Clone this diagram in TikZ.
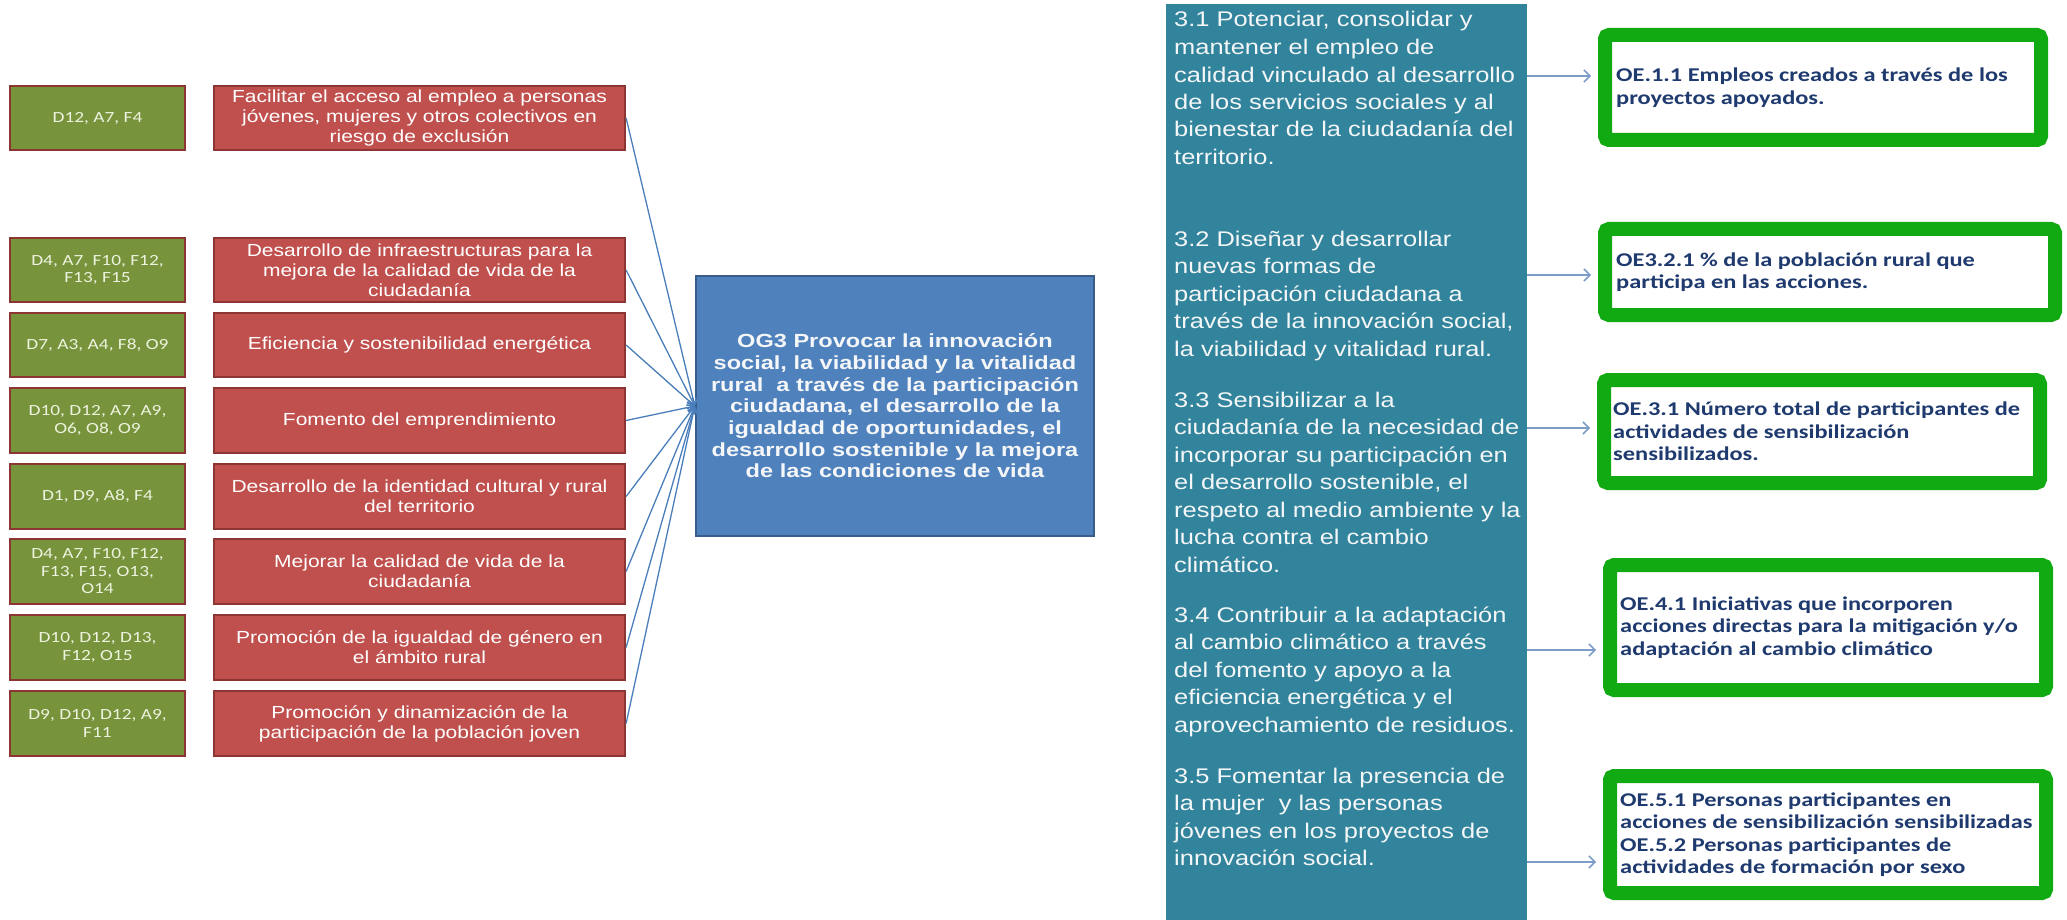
\documentclass[tikz,border=0pt]{standalone}
\usepackage{fontspec}
\usetikzlibrary{arrows.meta}
\newfontfamily\arialx{Liberation Sans}[FakeStretch=1.2]
\newfontfamily\arialb{Liberation Sans}[FakeStretch=1.24]
\newfontfamily\calx{Carlito}[FakeStretch=1.25]
\definecolor{gfill}{HTML}{77933C}
\definecolor{gtext}{HTML}{EEF3DF}
\definecolor{rfill}{HTML}{C0504D}
\definecolor{bdr}{HTML}{8C3532}
\definecolor{bfill}{HTML}{4F81BD}
\definecolor{bbdr}{HTML}{385D8A}
\definecolor{tealc}{HTML}{31849B}
\definecolor{ttext}{HTML}{F4F6F8}
\definecolor{oegreen}{HTML}{12AA12}
\definecolor{navy}{HTML}{1F3A6E}
\definecolor{conn}{HTML}{4A7EBB}
\definecolor{tconn}{HTML}{7E9CC8}
\tikzset{
  gbox/.style={draw=bdr, line width=2.2pt, fill=gfill, minimum width=175pt, minimum height=64.5pt,
    inner sep=0pt, align=center, text=gtext, font=\calx\fontsize{15.5pt}{17.5pt}\selectfont},
  rbox/.style={draw=bdr, line width=2.2pt, fill=rfill, minimum width=411pt, minimum height=64.5pt,
    inner sep=0pt, align=center, text=white, font=\arialx\fontsize{17.5pt}{20pt}\selectfont},
  ogbox/.style={draw=bbdr, line width=2.5pt, fill=bfill, minimum width=398pt, minimum height=260pt,
    inner sep=0pt, align=center, text=ttext, font=\arialb\bfseries\fontsize{19pt}{21.7pt}\selectfont},
  tealbox/.style={fill=tealc, minimum width=361pt, minimum height=916pt, inner sep=0pt},
  ttxt/.style={align=left, text=ttext, inner sep=0pt, font=\arialx\fontsize{21.2pt}{27.5pt}\selectfont},
  oebox/.style={draw=oegreen, line width=14pt, rounded corners=4pt, fill=white, inner sep=0pt},
  oetext/.style={align=left, text=navy, inner sep=0pt, font=\calx\bfseries\fontsize{19.5pt}{22.5pt}\selectfont},
  lconn/.style={draw=conn, line width=1.3pt, -{Straight Barb[length=6pt,width=10pt]}},
  tarrow/.style={draw=tconn, line width=1.5pt, -{Straight Barb[length=6pt,width=12pt]}, shorten >=7pt},
}
\begin{document}
\begin{tikzpicture}[x=1pt,y=-1pt]
\useasboundingbox (0,0) rectangle (2067,920);
% left column: green codes
\node[gbox] (g1) at (97.5,118)   {D12, A7, F4};
\node[gbox] (g2) at (97.5,270)   {D4, A7, F10, F12,\\F13, F15};
\node[gbox] (g3) at (97.5,345)   {D7, A3, A4, F8, O9};
\node[gbox] (g4) at (97.5,420.5) {D10, D12, A7, A9,\\O6, O8, O9};
\node[gbox] (g5) at (97.5,496.5) {D1, D9, A8, F4};
\node[gbox] (g6) at (97.5,571.5) {D4, A7, F10, F12,\\F13, F15, O13,\\O14};
\node[gbox] (g7) at (97.5,647.5) {D10, D12, D13,\\F12, O15};
\node[gbox] (g8) at (97.5,723.5) {D9, D10, D12, A9,\\F11};
% red lines of action
\node[rbox] (r1) at (419.5,118)   {Facilitar el acceso al empleo a personas\\j\'ovenes, mujeres y otros colectivos en\\riesgo de exclusi\'on};
\node[rbox] (r2) at (419.5,270)   {Desarrollo de infraestructuras para la\\mejora de la calidad de vida de la\\ciudadan\'ia};
\node[rbox] (r3) at (419.5,345)   {Eficiencia y sostenibilidad energ\'etica};
\node[rbox] (r4) at (419.5,420.5) {Fomento del emprendimiento};
\node[rbox] (r5) at (419.5,496.5) {Desarrollo de la identidad cultural y rural\\del territorio};
\node[rbox] (r6) at (419.5,571.5) {Mejorar la calidad de vida de la\\ciudadan\'ia};
\node[rbox] (r7) at (419.5,647.5) {Promoci\'on de la igualdad de g\'enero en\\el \'ambito rural};
\node[rbox] (r8) at (419.5,723.5) {Promoci\'on y dinamizaci\'on de la\\participaci\'on de la poblaci\'on joven};
% central objective
\node[ogbox] (og) at (895,406) {OG3 Provocar la innovaci\'on\\social, la viabilidad y la vitalidad\\rural\ \ a trav\'es de la participaci\'on\\ciudadana, el desarrollo de la\\igualdad de oportunidades, el\\desarrollo sostenible y la mejora\\de las condiciones de vida};
\foreach \i in {1,...,8} \draw[lconn] (r\i.east) -- (og.west);
% teal column (anchor base = baseline of the last line)
\node[tealbox] (tc) at (1346.5,462) {};
\node[ttxt, anchor=base west] (p1) at (1174,164.5) {3.1 Potenciar, consolidar y\\mantener el empleo de\\calidad vinculado al desarrollo\\de los servicios sociales y al\\bienestar de la ciudadan\'ia del\\territorio.};
\node[ttxt, anchor=base west] (p2) at (1174,356) {3.2 Dise\~nar y desarrollar\\nuevas formas de\\participaci\'on ciudadana a\\trav\'es de la innovaci\'on social,\\la viabilidad y vitalidad rural.};
\node[ttxt, anchor=base west] (p3) at (1174,572) {3.3 Sensibilizar a la\\ciudadan\'ia de la necesidad de\\incorporar su participaci\'on en\\el desarrollo sostenible, el\\respeto al medio ambiente y la\\lucha contra el cambio\\clim\'atico.};
\node[ttxt, anchor=base west] (p4) at (1174,732) {3.4 Contribuir a la adaptaci\'on\\al cambio clim\'atico a trav\'es\\del fomento y apoyo a la\\eficiencia energ\'etica y el\\aprovechamiento de residuos.};
\node[ttxt, anchor=base west] (p5) at (1174,865.5) {3.5 Fomentar la presencia de\\la mujer\ \ y las personas\\j\'ovenes en los proyectos de\\innovaci\'on social.};
% indicator boxes
\node[oebox, minimum width=436pt, minimum height=105pt] (o1) at (1823,87.5) {};
\node[oebox, minimum width=450pt, minimum height=86pt]  (o2) at (1830,272) {};
\node[oebox, minimum width=436pt, minimum height=103pt] (o3) at (1822,431.5) {};
\node[oebox, minimum width=436pt, minimum height=125pt] (o4) at (1828,627.5) {};
\node[oebox, minimum width=436pt, minimum height=117pt] (o5) at (1828,834.5) {};
\node[oetext, anchor=west] (t1) at ([xshift=18pt]o1.west) {OE.1.1 Empleos creados a trav\'es de los\\proyectos apoyados.};
\node[oetext, anchor=west] (t2) at ([xshift=18pt]o2.west) {OE3.2.1 \% de la poblaci\'on rural que\\participa en las acciones.};
\node[oetext, anchor=west] (t3) at ([xshift=16pt]o3.west) {OE.3.1 N\'umero total de participantes de\\actividades de sensibilizaci\'on\\sensibilizados.};
\node[oetext, anchor=west] (t4) at ([xshift=17pt]o4.west) {OE.4.1 Iniciativas que incorporen\\acciones directas para la mitigaci\'on y/o\\adaptaci\'on al cambio clim\'atico};
\node[oetext, anchor=west] (t5) at ([xshift=17pt]o5.west) {OE.5.1 Personas participantes en\\acciones de sensibilizaci\'on sensibilizadas\\OE.5.2 Personas participantes de\\actividades de formaci\'on por sexo};
% arrows from column to indicators
\coordinate (a1) at (0,76);
\coordinate (a2) at (0,275);
\coordinate (a3) at (0,428);
\coordinate (a4) at (0,650);
\coordinate (a5) at (0,862);
\draw[tarrow] (tc.east |- a1) -- (o1.west |- a1);
\draw[tarrow] (tc.east |- a2) -- (o2.west |- a2);
\draw[tarrow] (tc.east |- a3) -- (o3.west |- a3);
\draw[tarrow] (tc.east |- a4) -- (o4.west |- a4);
\draw[tarrow] (tc.east |- a5) -- (o5.west |- a5);
\end{tikzpicture}
\end{document}
